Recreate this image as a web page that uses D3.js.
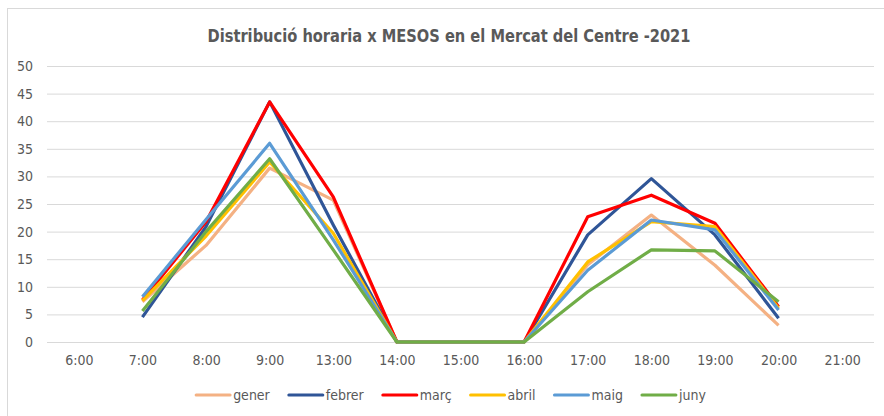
<!DOCTYPE html>
<html>
<head>
<meta charset="utf-8">
<script src="https://cdn.jsdelivr.net/npm/d3@7"></script>
<style>
  body { margin: 0; background: #fff; }
  text { font-family: "Liberation Sans Narrow", "DejaVu Sans Condensed", "Liberation Sans", sans-serif; fill: #595959; }
</style>
</head>
<body>
<div id="chart"></div>
<script>
const hours = ["6:00", "7:00", "8:00", "9:00", "13:00", "14:00", "15:00", "16:00", "17:00", "18:00", "19:00", "20:00", "21:00"];
const months = ["gener", "febrer", "març", "abril", "maig", "juny"];
const colors = ["#F4B183", "#2F5597", "#FF0000", "#FFC000", "#5B9BD5", "#70AD47"];

// null = no value for that hour
const gener  = [null, 7.3, 17.5, 31.5, 25.7, 0, 0, 0, 14.0, 23.0, 13.9, 3.0, null];
const febrer = [null, 4.5, 20.9, 43.5, 21.2, 0, 0, 0, 19.4, 29.6, 19.4, 4.3, null];
const marc   = [null, 7.6, 21.8, 43.5, 26.3, 0, 0, 0, 22.7, 26.6, 21.5, 6.4, null];
const abril  = [null, 7.5, 19.2, 32.6, 19.7, 0, 0, 0, 14.5, 21.8, 20.9, 6.1, null];
const maig   = [null, 8.2, 22.2, 36.0, 18.5, 0, 0, 0, 13.0, 22.1, 20.3, 5.8, null];
const juny   = [null, 5.6, 20.0, 33.2, 16.7, 0, 0, 0, 9.1, 16.7, 16.5, 7.3, null];
const series = [gener, febrer, marc, abril, maig, juny];

const width = 884, height = 416;
const margin = {top: 66, right: 10, bottom: 74, left: 47};

const svg = d3.select("#chart").append("svg")
  .attr("width", width)
  .attr("height", height);

// chart frame
svg.append("rect")
  .attr("x", 7.5).attr("y", 8.5)
  .attr("width", 900).attr("height", 500)
  .attr("fill", "none")
  .attr("stroke", "#d9d9d9");

svg.append("text")
  .attr("x", 449).attr("y", 42)
  .attr("text-anchor", "middle")
  .attr("textLength", 483)
  .attr("lengthAdjust", "spacingAndGlyphs")
  .style("font-size", "17px")
  .style("font-weight", "bold")
  .text("Distribució horaria x MESOS en el Mercat del Centre -2021");

const x = d3.scalePoint()
  .domain(hours)
  .range([margin.left, width - margin.right])
  .padding(0.5);

const y = d3.scaleLinear()
  .domain([0, 50])
  .range([height - margin.bottom, margin.top]);

// gridlines + y labels
const yAxis = svg.append("g")
  .attr("transform", `translate(${margin.left},0)`)
  .call(d3.axisLeft(y).tickValues(d3.range(0, 51, 5))
    .tickSize(-(width - margin.right - margin.left)).tickPadding(14));
yAxis.select(".domain").remove();
yAxis.selectAll("line").attr("stroke", "#d9d9d9").attr("stroke-width", 1);
yAxis.selectAll("text").style("font-size", "14px").attr("fill", "#595959");

// x labels
const xAxis = svg.append("g")
  .attr("transform", `translate(0,${height - margin.bottom})`)
  .call(d3.axisBottom(x).tickSize(0).tickPadding(13));
xAxis.select(".domain").remove();
xAxis.selectAll("text").style("font-size", "14px").attr("fill", "#595959");

const line = d3.line()
  .defined(d => d != null)
  .x((d, i) => x(hours[i]))
  .y(d => y(d));

svg.append("g")
  .selectAll("path")
  .data(series)
  .join("path")
  .attr("d", d => line(d))
  .attr("fill", "none")
  .attr("stroke", (d, i) => colors[i])
  .attr("stroke-width", 3.2)
  .attr("stroke-linejoin", "round");

// legend
const legend = svg.append("g");
let lx = 0;
months.forEach((m, i) => {
  const g = legend.append("g").attr("transform", `translate(${lx},0)`);
  g.append("line")
    .attr("x1", 0).attr("x2", 34)
    .attr("stroke", colors[i]).attr("stroke-width", 3)
    .attr("stroke-linecap", "round");
  const t = g.append("text")
    .attr("x", 37).attr("y", 5)
    .style("font-size", "14px")
    .text(m);
  lx += 37 + t.node().getComputedTextLength() + 19;
});
lx -= 19;
legend.attr("transform", `translate(${451 - lx / 2},395)`);
</script>
</body>
</html>
